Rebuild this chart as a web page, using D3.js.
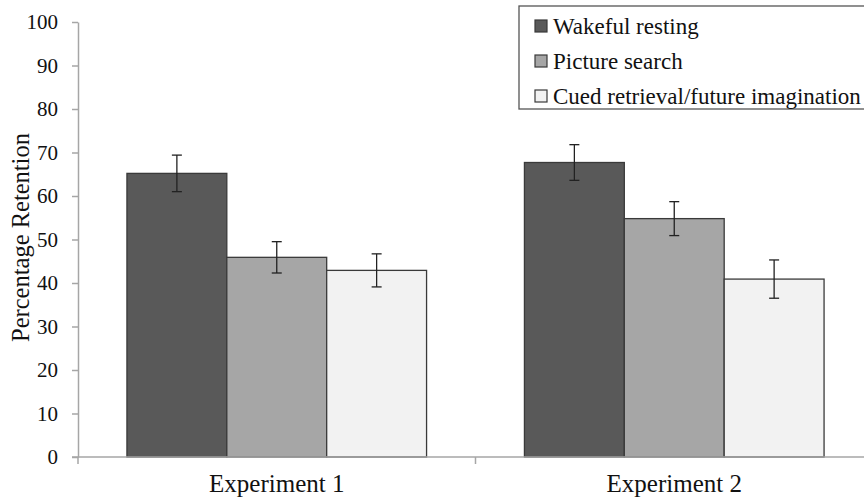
<!DOCTYPE html>
<html>
<head>
<meta charset="utf-8">
<script src="https://cdn.jsdelivr.net/npm/d3@7"></script>
<style>
  body { margin: 0; background: #fff; }
  svg text { font-family: "Times New Roman", "Liberation Serif", Times, "DejaVu Serif", serif; }
</style>
</head>
<body>
<div id="chart"></div>
<script>
// Data.
const experiments = ['Experiment 1', 'Experiment 2'];
const conditions = ['Wakeful resting', 'Picture search', 'Cued retrieval/future imagination'];
const means = [
  [65.2, 45.9, 42.9],
  [67.7, 54.8, 40.9]
];
const errors = [
  [4.2, 3.6, 3.8],
  [4.1, 3.9, 4.4]
];
const yTicks = [0, 10, 20, 30, 40, 50, 60, 70, 80, 90, 100];

const fills = ['#595959', '#a6a6a6', '#f2f2f2'];

const width = 864, height = 500;
const margin = { top: 22, right: -9, bottom: 43, left: 78 };

const svg = d3.select('#chart').append('svg')
  .attr('width', width)
  .attr('height', height);

const x0 = d3.scaleBand()
  .domain(experiments)
  .range([margin.left, width - margin.right])
  .padding(0);

const x1 = d3.scaleBand()
  .domain(conditions)
  .range([0, x0.bandwidth()])
  .paddingInner(0)
  .paddingOuter(0.49);

const y = d3.scaleLinear()
  .domain([0, 100])
  .range([height - margin.bottom, margin.top]);

// Bars
const groups = svg.append('g').selectAll('g.group')
  .data(experiments)
  .join('g')
  .attr('class', 'group')
  .attr('transform', d => `translate(${x0(d)},0)`);

groups.selectAll('rect')
  .data((d, i) => conditions.map((c, j) => ({ c, j, v: means[i][j], e: errors[i][j] })))
  .join('rect')
  .attr('x', d => x1(d.c))
  .attr('y', d => y(d.v))
  .attr('width', x1.bandwidth())
  .attr('height', d => y(0) - y(d.v))
  .attr('fill', d => fills[d.j])
  .attr('stroke', '#3a3a3a')
  .attr('stroke-width', 1.3);

// Error bars
const err = groups.selectAll('g.err')
  .data((d, i) => conditions.map((c, j) => ({ c, v: means[i][j], e: errors[i][j] })))
  .join('g')
  .attr('class', 'err')
  .attr('stroke', '#222')
  .attr('stroke-width', 1.3);

err.append('line')
  .attr('x1', d => x1(d.c) + x1.bandwidth() / 2)
  .attr('x2', d => x1(d.c) + x1.bandwidth() / 2)
  .attr('y1', d => y(d.v + d.e))
  .attr('y2', d => y(d.v - d.e));
err.append('line')
  .attr('x1', d => x1(d.c) + x1.bandwidth() / 2 - 5)
  .attr('x2', d => x1(d.c) + x1.bandwidth() / 2 + 5)
  .attr('y1', d => y(d.v + d.e))
  .attr('y2', d => y(d.v + d.e));
err.append('line')
  .attr('x1', d => x1(d.c) + x1.bandwidth() / 2 - 5)
  .attr('x2', d => x1(d.c) + x1.bandwidth() / 2 + 5)
  .attr('y1', d => y(d.v - d.e))
  .attr('y2', d => y(d.v - d.e));

// Y axis
const yAx = svg.append('g')
  .attr('transform', `translate(${margin.left},0)`)
  .call(d3.axisLeft(y).tickValues(yTicks).tickSize(6).tickSizeOuter(0).tickPadding(14));
yAx.attr('font-family', null).attr('font-size', null);
yAx.select('.domain').attr('stroke', '#a6a6a6').attr('stroke-width', 1.5);
yAx.selectAll('.tick line').attr('stroke', '#a6a6a6').attr('stroke-width', 1.5);
yAx.selectAll('.tick text')
  .attr('fill', '#111')
  .style('font-size', '21px');

// X axis: ticks at band edges
const xAx = svg.append('g')
  .attr('transform', `translate(0,${y(0)})`);
xAx.append('line')
  .attr('x1', margin.left - 6)
  .attr('x2', width)
  .attr('stroke', '#a6a6a6')
  .attr('stroke-width', 1.5);
const edges = experiments.map(d => x0(d)).concat([x0(experiments[1]) + x0.bandwidth()]);
xAx.selectAll('line.edge')
  .data(edges)
  .join('line')
  .attr('class', 'edge')
  .attr('x1', d => d).attr('x2', d => d)
  .attr('y1', 0).attr('y2', 7)
  .attr('stroke', '#a6a6a6')
  .attr('stroke-width', 1.5);
xAx.selectAll('text')
  .data(experiments)
  .join('text')
  .attr('x', d => x0(d) + x0.bandwidth() / 2)
  .attr('y', 35)
  .attr('text-anchor', 'middle')
  .attr('fill', '#111')
  .style('font-size', '25px')
  .text(d => d);

// Y label
svg.append('text')
  .attr('transform', `translate(29,${(y(0) + y(100)) / 2 - 2}) rotate(-90)`)
  .attr('text-anchor', 'middle')
  .attr('fill', '#111')
  .style('font-size', '24.5px')
  .text('Percentage Retention');

// Legend
const legend = svg.append('g').attr('transform', 'translate(519,6)');
legend.append('rect')
  .attr('width', 350)
  .attr('height', 103)
  .attr('fill', '#fff')
  .attr('stroke', '#555')
  .attr('stroke-width', 1.3);
const items = legend.selectAll('g.item')
  .data(conditions)
  .join('g')
  .attr('class', 'item')
  .attr('transform', (d, i) => `translate(16,${20 + i * 35})`);
items.append('rect')
  .attr('y', -6)
  .attr('width', 12)
  .attr('height', 12)
  .attr('fill', (d, i) => fills[i])
  .attr('stroke', '#3a3a3a')
  .attr('stroke-width', 1.2);
items.append('text')
  .attr('x', 18)
  .attr('y', 7.5)
  .attr('fill', '#111')
  .style('font-size', '23px')
  .text(d => d);
</script>
</body>
</html>
